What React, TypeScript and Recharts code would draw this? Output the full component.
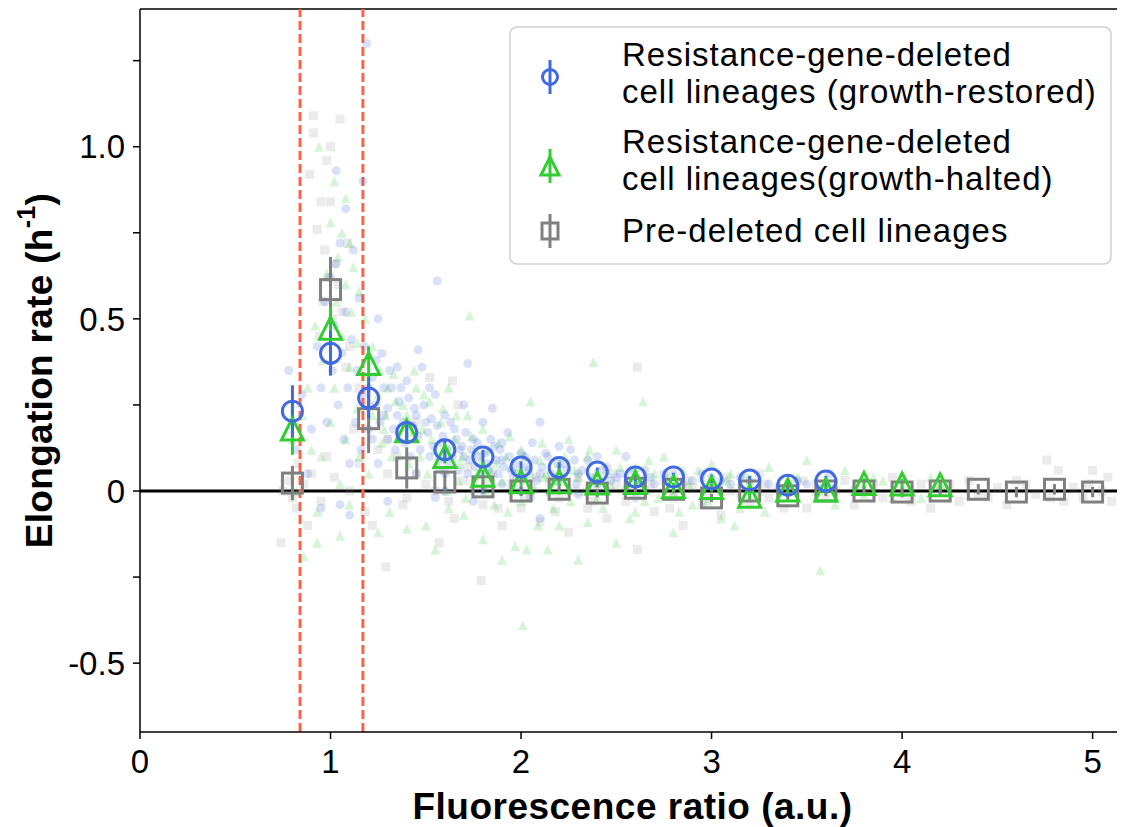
import React from 'react';
import { ScatterChart, Scatter, XAxis, YAxis, ReferenceLine, ErrorBar, Legend } from 'recharts';

const FONT = '"Liberation Sans", Arial, Helvetica, sans-serif';
const BLUE = '#4169e1';
const GREEN = '#32cd32';
const GRAY = '#808080';
const RED = '#ff6347';

// axis ticks
const fluorTicks = [0, 1, 2, 3, 4, 5];
const rateTicks = [-0.5, -0.25, 0, 0.25, 0.5, 0.75, 1.0, 1.25];
const rateMajorLabels: Record<string, string> = { '-0.5': '-0.5', '0': '0', '0.5': '0.5', '1': '1.0' };
const gateLines = [0.84, 1.17];

// binned means (± error)
const restoredX = [0.8, 1.0, 1.2, 1.4, 1.6, 1.8, 2.0, 2.2, 2.4, 2.6, 2.8, 3.0, 3.2, 3.4, 3.6];
const restoredY = [0.232, 0.40, 0.27, 0.17, 0.12, 0.099, 0.07, 0.068, 0.055, 0.041, 0.041, 0.035, 0.032, 0.017, 0.029];
const restoredErr = [0.075, 0.065, 0.06, 0.03, 0.025, 0.02, 0.016, 0.015, 0.013, 0.012, 0.012, 0.012, 0.012, 0.012, 0.015];

const haltedX = [0.8, 1.0, 1.2, 1.4, 1.6, 1.8, 2.0, 2.2, 2.4, 2.6, 2.8, 3.0, 3.2, 3.4, 3.6, 3.8, 4.0, 4.2];
const haltedY = [0.18, 0.473, 0.37, 0.175, 0.1, 0.046, 0.027, 0.027, 0.023, 0.025, 0.012, 0.01, -0.015, 0.003, 0.003, 0.022, 0.02, 0.018];
const haltedErr = [0.075, 0.06, 0.05, 0.03, 0.02, 0.016, 0.012, 0.012, 0.012, 0.012, 0.012, 0.012, 0.015, 0.012, 0.012, 0.015, 0.015, 0.015];

const preX = [0.8, 1.0, 1.2, 1.4, 1.6, 1.8, 2.0, 2.2, 2.4, 2.6, 2.8, 3.0, 3.2, 3.4, 3.6, 3.8, 4.0, 4.2, 4.4, 4.6, 4.8, 5.0];
const preY = [0.023, 0.585, 0.21, 0.067, 0.026, 0.012, 0.0, 0.005, -0.006, 0.008, 0.005, -0.02, 0.0, -0.014, 0.0, 0.0, -0.003, 0.0, 0.005, -0.003, 0.005, -0.003];
const preErr = [0.05, 0.095, 0.1, 0.06, 0.03, 0.02, 0.015, 0.015, 0.012, 0.012, 0.012, 0.012, 0.012, 0.012, 0.015, 0.015, 0.015, 0.015, 0.015, 0.015, 0.015, 0.015];

// individual lineages (background clouds)
const restoredCloud: number[][] = [
  [0.78, 0.35], [0.82, 0.12], [0.85, 0.28], [0.88, 0.05], [0.9, 0.18], [0.93, 0.42], [0.95, 0.3], [0.97, 0.55],
  [0.98, 0.2], [1.0, 0.62], [1.01, 0.35], [1.02, 0.48], [1.03, 0.93], [1.03, 0.66], [1.04, 0.25], [1.05, 0.72],
  [1.06, 0.4], [1.07, 0.15], [1.08, 0.52], [1.09, 0.3], [1.1, 0.08], [1.11, 0.44], [1.12, 0.7], [1.13, 0.2],
  [1.14, 0.35], [1.15, 0.56], [1.16, 0.12], [1.17, 0.9], [1.17, 0.28], [1.18, 0.42], [1.19, 1.3], [1.2, 0.18],
  [1.22, 0.33], [1.24, 0.25], [1.25, 0.08], [1.27, 0.4], [1.28, 0.22], [1.3, 0.15], [1.32, 0.3], [1.34, 0.12],
  [1.36, 0.26], [1.38, 0.2], [1.4, 0.32], [1.42, 0.1], [1.44, 0.24], [1.46, 0.41], [1.46, 0.16], [1.48, 0.36],
  [1.5, 0.2], [1.52, 0.1], [1.55, 0.28], [1.56, 0.61], [1.58, 0.14], [1.6, 0.22], [1.62, 0.08], [1.65, 0.18],
  [1.68, 0.12], [1.7, 0.25], [1.72, 0.37], [1.72, 0.05], [1.75, 0.15], [1.78, 0.1], [1.8, 0.2], [1.83, 0.06],
  [1.85, 0.24], [1.86, 0.13], [1.9, 0.09], [1.93, 0.17], [1.96, 0.04], [2.0, 0.11], [2.03, 0.07], [2.06, 0.14],
  [2.1, 0.2], [2.1, 0.05], [2.14, 0.1], [2.18, 0.03], [2.22, 0.08], [2.26, 0.12], [2.3, 0.05], [2.35, 0.09],
  [2.4, 0.02], [2.45, 0.07], [2.5, 0.04], [2.55, 0.1], [2.6, 0.03], [2.65, 0.06], [2.7, 0.02], [2.8, 0.05],
  [2.9, 0.03], [3.0, 0.04], [3.1, 0.02], [3.2, 0.03], [3.35, 0.01], [3.5, 0.02], [3.62, 0.05], [0.95, -0.05],
  [1.05, -0.04], [1.3, -0.03], [1.1, -0.07], [1.55, -0.02], [2.1, -0.08], [1.6, 0.05], [1.7, 0.1], [1.9, 0.14],
  [2.0, 0.0], [2.2, 0.13], [2.4, 0.1], [1.45, 0.05], [1.52, 0.3], [1.35, 0.36], [1.25, 0.5], [1.08, 0.82],
  [1.2, 0.3], [1.22, 0.15], [1.24, 0.38], [1.26, 0.2], [1.28, 0.3], [1.3, 0.24], [1.31, 0.35], [1.33, 0.18],
  [1.35, 0.22], [1.37, 0.3], [1.39, 0.14], [1.41, 0.27], [1.43, 0.19], [1.45, 0.22], [1.47, 0.12], [1.49, 0.25],
  [1.51, 0.17], [1.53, 0.21], [1.54, 0.13], [1.56, 0.19], [1.57, 0.09], [1.59, 0.16], [1.61, 0.12], [1.63, 0.2],
  [1.64, 0.1], [1.66, 0.15], [1.67, 0.06], [1.69, 0.13], [1.71, 0.17], [1.73, 0.09], [1.74, 0.12], [1.76, 0.07],
  [1.77, 0.14], [1.79, 0.05], [1.81, 0.11], [1.82, 0.08], [1.84, 0.15], [1.87, 0.09], [1.88, 0.05], [1.89, 0.12],
  [1.91, 0.07], [1.94, 0.1], [1.95, 0.06], [1.98, 0.08], [2.01, 0.04], [2.02, 0.1], [2.04, 0.06], [2.07, 0.09],
  [2.08, 0.03], [2.11, 0.07], [2.13, 0.11], [2.16, 0.05], [2.19, 0.08], [2.21, 0.04], [2.24, 0.06], [2.28, 0.09],
  [2.29, 0.02], [2.32, 0.06], [2.37, 0.04], [2.42, 0.06], [2.47, 0.03], [2.52, 0.05], [2.58, 0.06], [2.63, 0.02],
  [2.68, 0.04], [2.75, 0.05], [2.85, 0.02], [2.95, 0.05], [3.05, 0.03], [3.15, 0.04], [3.3, 0.02], [3.45, 0.03],
  [1.6, 0.0], [1.8, 0.0], [1.75, -0.03], [1.9, 0.02], [2.05, -0.02], [2.3, -0.01], [2.45, 0.0], [2.6, -0.02],
];

const haltedCloud: number[][] = [
  [0.94, 1.0], [1.02, 0.9], [1.08, 0.85], [1.0, 0.78], [1.06, 0.75], [1.1, 0.72], [1.04, 0.68], [1.12, 0.65],
  [0.98, 0.63], [1.08, 0.6], [1.15, 0.58], [1.03, 0.55], [1.11, 0.52], [1.18, 0.5], [0.92, 0.48], [1.06, 0.45],
  [1.14, 0.43], [1.22, 0.42], [0.96, 0.38], [1.1, 0.36], [1.18, 0.33], [1.26, 0.35], [0.88, 0.3], [1.02, 0.3],
  [1.3, 0.3], [0.85, 0.22], [1.14, 0.24], [1.22, 0.22], [1.34, 0.26], [0.8, 0.15], [0.9, 0.12], [1.08, 0.15],
  [1.28, 0.18], [1.4, 0.22], [1.45, 0.3], [1.48, 0.18], [1.52, 0.26], [1.55, 0.12], [1.58, 0.2], [1.62, 0.3],
  [1.65, 0.15], [1.68, 0.08], [1.73, 0.51], [1.72, 0.22], [1.76, 0.12], [1.8, 0.18], [1.84, 0.06], [1.88, 0.14],
  [1.92, 0.1], [1.96, 0.02], [2.0, 0.12], [2.05, 0.26], [2.05, 0.05], [2.1, 0.09], [2.15, 0.0], [2.2, 0.08],
  [2.25, 0.15], [2.3, 0.04], [2.35, 0.1], [2.38, 0.375], [2.4, -0.02], [2.45, 0.06], [2.5, 0.12], [2.55, 0.02],
  [2.6, 0.07], [2.64, 0.26], [2.65, -0.03], [2.7, 0.05], [2.75, 0.1], [2.8, 0.0], [2.85, 0.06], [2.9, -0.04],
  [2.95, 0.04], [3.0, 0.08], [3.05, 0.0], [3.1, 0.05], [3.15, -0.05], [3.2, 0.03], [3.3, 0.07], [3.35, -0.02],
  [3.45, 0.04], [3.5, 0.09], [3.57, -0.23], [3.6, 0.02], [3.7, 0.06], [3.8, -0.01], [3.9, 0.03], [4.0, 0.05],
  [4.1, -0.02], [4.2, 0.02], [2.01, -0.39], [0.93, -0.06], [0.93, -0.15], [1.05, -0.13], [1.31, -0.06],
  [1.4, -0.11], [1.5, -0.1], [1.7, -0.07], [1.8, -0.14], [1.9, -0.2], [1.97, -0.16], [2.03, -0.17], [2.14, -0.17],
  [2.2, -0.1], [2.35, -0.09], [2.3, -0.2], [2.6, -0.06], [2.5, -0.15], [2.8, -0.12], [3.05, -0.08], [1.62, -0.05],
  [1.55, -0.17], [1.1, -0.04], [1.25, -0.12], [0.86, -0.19], [1.6, 0.1], [1.75, 0.03], [1.95, 0.07], [2.12, 0.04],
  [1.25, 0.28], [1.27, 0.14], [1.29, 0.22], [1.32, 0.1], [1.33, 0.34], [1.36, 0.16], [1.38, 0.25], [1.41, 0.08],
  [1.43, 0.17], [1.44, 0.35], [1.47, 0.1], [1.49, 0.28], [1.51, 0.05], [1.53, 0.15], [1.57, 0.07], [1.59, 0.24],
  [1.61, 0.0], [1.63, 0.13], [1.66, 0.22], [1.67, 0.03], [1.69, 0.1], [1.71, -0.02], [1.74, 0.16], [1.77, 0.05],
  [1.79, 0.09], [1.82, 0.0], [1.83, 0.12], [1.86, -0.04], [1.87, 0.08], [1.9, 0.03], [1.93, -0.06], [1.94, 0.16],
  [1.98, 0.06], [2.0, -0.03], [2.02, 0.1], [2.07, 0.01], [2.09, -0.1], [2.11, 0.14], [2.13, 0.05], [2.17, -0.05],
  [2.19, 0.03], [2.23, 0.1], [2.26, -0.03], [2.28, 0.06], [2.33, 0.0], [2.36, 0.12], [2.39, 0.05], [2.43, -0.05],
  [2.47, 0.02], [2.52, 0.07], [2.57, -0.08], [2.62, 0.03], [2.67, 0.09], [2.72, -0.02], [2.77, 0.04], [2.83, -0.06],
  [2.88, 0.02], [2.93, 0.06], [2.98, -0.03], [3.08, 0.03], [3.12, -0.1], [3.18, 0.05], [3.25, 0.0], [3.28, -0.06],
  [3.4, 0.02], [3.55, 0.0], [3.65, -0.04], [3.75, 0.02], [3.85, 0.04], [3.95, -0.02], [4.05, 0.01], [4.15, 0.04],
  [1.15, 0.1], [1.2, 0.05], [1.0, 0.2], [0.95, 0.1], [1.05, 0.02], [0.82, 0.0],
];

const preCloud: number[][] = [
  [0.91, 1.09], [1.05, 1.08], [0.91, 1.04], [1.0, 1.0], [0.98, 0.96], [0.89, 0.92], [0.95, 0.84], [1.0, 0.84],
  [0.93, 0.76], [1.09, 0.72], [0.97, 0.7], [1.02, 0.66], [0.99, 0.62], [1.04, 0.6], [0.96, 0.55], [1.06, 0.52],
  [1.01, 0.5], [0.94, 0.45], [1.1, 0.42], [1.08, 0.36], [1.15, 0.3], [1.2, 0.25], [1.12, 0.18], [0.83, 0.08],
  [0.78, 0.03], [0.75, 0.0], [0.8, -0.02], [0.86, 0.02], [0.74, -0.15], [0.82, -0.05], [0.9, 0.05], [0.95, -0.03],
  [1.02, 0.04], [1.1, 0.0], [1.18, -0.06], [1.25, 0.12], [1.29, -0.22], [1.3, 0.05], [1.35, 0.1], [1.38, -0.04],
  [1.45, 0.2], [1.5, 0.02], [1.57, -0.15], [1.6, 0.06], [1.65, -0.08], [1.7, 0.03], [1.75, 0.0], [1.79, -0.26],
  [1.8, -0.04], [1.85, 0.05], [1.9, -0.1], [1.95, 0.02], [2.0, -0.05], [2.05, 0.0], [2.1, -0.09], [2.15, 0.03],
  [2.2, -0.02], [2.25, -0.12], [2.3, 0.04], [2.35, -0.05], [2.4, 0.01], [2.45, -0.08], [2.5, 0.02], [2.55, -0.03],
  [2.61, -0.17], [2.61, 0.36], [2.65, 0.0], [2.7, -0.06], [2.75, 0.03], [2.8, -0.02], [2.85, -0.1], [2.9, 0.01],
  [2.95, -0.04], [3.0, 0.02], [3.05, -0.07], [3.1, 0.0], [3.2, -0.03], [3.25, 0.05], [3.3, -0.02], [3.4, 0.01],
  [3.5, -0.05], [3.55, 0.02], [3.6, -0.01], [3.7, 0.03], [3.75, -0.04], [3.8, 0.0], [3.9, -0.02], [3.95, 0.04],
  [4.0, -0.01], [4.1, 0.02], [4.15, -0.05], [4.2, 0.01], [4.3, -0.03], [4.35, 0.03], [4.45, -0.02], [4.5, 0.01],
  [4.55, -0.04], [4.65, 0.02], [4.7, -0.01], [4.76, 0.09], [4.82, 0.06], [4.85, -0.03], [4.9, 0.01], [4.95, -0.02],
  [5.0, 0.06], [5.05, 0.0], [5.1, -0.03], [1.52, 0.33], [1.64, 0.32], [1.67, 0.25], [1.3, 0.15], [1.4, -0.02],
  [1.45, 0.05], [1.55, 0.0], [1.62, -0.03], [1.72, 0.07], [1.82, 0.02], [1.88, -0.05], [1.98, 0.05], [2.02, -0.02],
  [2.08, 0.04], [2.18, -0.06], [2.28, 0.0], [2.38, -0.03], [2.48, 0.05], [2.58, 0.0], [2.68, 0.02], [2.78, -0.05],
  [2.88, 0.03], [2.98, -0.02], [3.08, 0.04], [3.15, -0.01], [3.28, 0.02], [3.38, -0.05], [3.48, 0.03], [3.65, 0.0],
  [3.85, 0.02], [4.05, -0.03], [4.25, 0.02], [4.4, -0.01], [4.6, 0.03], [4.78, -0.02], [4.98, 0.02], [5.08, 0.04],
  [0.88, -0.1], [0.98, 0.1], [1.15, 0.08], [1.22, -0.1],
];

const legendLabels: string[][] = [
  ['Resistance-gene-deleted', 'cell lineages (growth-restored)'],
  ['Resistance-gene-deleted', 'cell lineages(growth-halted)'],
  ['Pre-deleted cell lineages'],
];

const toRows = (xs: number[], ys: number[], es: number[]) => xs.map((x, i) => ({ x, y: ys[i], err: es[i] }));
const cloudRows = (pts: number[][]) => pts.map(([x, y]) => ({ x, y }));

const restoredRows = toRows(restoredX, restoredY, restoredErr);
const haltedRows = toRows(haltedX, haltedY, haltedErr);
const preRows = toRows(preX, preY, preErr);

const CloudCircle = (p: any) => <circle cx={p.cx} cy={p.cy} r={4.5} fill={BLUE} fillOpacity={0.2} />;
const CloudTri = (p: any) => (
  <polygon points={`${p.cx},${p.cy - 5} ${p.cx - 5},${p.cy + 5} ${p.cx + 5},${p.cy + 5}`} fill={GREEN} fillOpacity={0.2} />
);
const CloudSq = (p: any) => <rect x={p.cx - 4.5} y={p.cy - 4.5} width={9} height={9} fill={GRAY} fillOpacity={0.16} />;

const MeanCircle = (p: any) => <circle cx={p.cx} cy={p.cy} r={10} fill="none" stroke={BLUE} strokeWidth={3} />;
const MeanTri = (p: any) => (
  <polygon points={`${p.cx},${p.cy - 11} ${p.cx - 11},${p.cy + 11} ${p.cx + 11},${p.cy + 11}`} fill="none" stroke={GREEN} strokeWidth={3} strokeLinejoin="miter" />
);
const MeanSq = (p: any) => <rect x={p.cx - 10} y={p.cy - 10} width={20} height={20} fill="none" stroke={GRAY} strokeWidth={3} />;

const LegendBox = () => {
  const icons = [
    { cy: 51, color: BLUE, kind: 'c' },
    { cy: 140, color: GREEN, kind: 't' },
    { cy: 205, color: GRAY, kind: 's' },
  ];
  const baselines = [[40, 77], [127, 164], [216]];
  return (
    <svg width={604} height={240} style={{ display: 'block' }}>
      <rect x={1} y={1} width={601} height={237} rx={7} ry={7} fill="#ffffff" fillOpacity={0.85} stroke="#cfcfcf" strokeWidth={1.5} />
      {icons.map((ic, i) => (
        <g key={i}>
          <line x1={41} x2={41} y1={ic.cy - 17} y2={ic.cy + 17} stroke={ic.color} strokeWidth={3} />
          {ic.kind === 'c' && <circle cx={41} cy={ic.cy} r={7.5} fill="none" stroke={ic.color} strokeWidth={3} />}
          {ic.kind === 't' && (
            <polygon points={`41,${ic.cy - 9} 32,${ic.cy + 9} 50,${ic.cy + 9}`} fill="none" stroke={ic.color} strokeWidth={3} />
          )}
          {ic.kind === 's' && <rect x={33} y={ic.cy - 8} width={16} height={16} fill="none" stroke={ic.color} strokeWidth={3} />}
        </g>
      ))}
      {legendLabels.map((lines, i) =>
        lines.map((t, j) => (
          <text key={`${i}-${j}`} x={113} y={baselines[i][j]} fontFamily={FONT} fontSize={33} letterSpacing={1} fill="#000">
            {t}
          </text>
        ))
      )}
    </svg>
  );
};

const XTitle = (props: any) => {
  const vb = props.viewBox;
  return (
    <text x={vb.x + vb.width / 2} y={vb.y + 87} textAnchor="middle" fontFamily={FONT} fontWeight="bold" fontSize={37} letterSpacing={0.5} fill="#000">
      Fluorescence ratio (a.u.)
    </text>
  );
};

const YTitle = (props: any) => {
  const vb = props.viewBox;
  const cx = 31;
  const cy = vb.y + vb.height / 2;
  return (
    <text x={cx} y={cy} transform={`rotate(-90, ${cx}, ${cy})`} textAnchor="middle" dominantBaseline="central" fontFamily={FONT} fontWeight="bold" fontSize={37} letterSpacing={0.3} fill="#000">
      <tspan>Elongation rate (h</tspan>
      <tspan dy={-13} fontSize={25}>-1</tspan>
      <tspan dy={13}>)</tspan>
    </text>
  );
};

export default function App() {
  return (
    <div style={{ width: 1117, height: 819, position: 'relative' }}>
      <ScatterChart width={1117} height={819} margin={{ top: 1, right: 0, bottom: 0, left: 0 }}>
        <XAxis
          dataKey="x"
          type="number"
          domain={[0, 5.17]}
          allowDataOverflow
          ticks={fluorTicks}
          height={95}
          tickSize={7}
          tickMargin={11}
          tick={{ fill: '#000', fontSize: 33, fontFamily: FONT }}
          tickLine={{ stroke: '#000', strokeWidth: 1.5 }}
          axisLine={{ stroke: '#000', strokeWidth: 1.5 }}
          label={{ content: XTitle } as any}
        />
        <YAxis
          dataKey="y"
          type="number"
          domain={[-0.7, 1.4]}
          allowDataOverflow
          ticks={rateTicks}
          width={132}
          tickSize={7}
          tickMargin={8}
          tickFormatter={(v: number) => rateMajorLabels[String(v)] ?? ''}
          tick={{ fill: '#000', fontSize: 33, fontFamily: FONT }}
          tickLine={{ stroke: '#000', strokeWidth: 1.5 }}
          axisLine={{ stroke: '#000', strokeWidth: 1.5 }}
          label={{ content: YTitle } as any}
        />
        <ReferenceLine y={1.4} stroke="#000" strokeWidth={1.5} />
        <Scatter name="preCloud" data={cloudRows(preCloud)} shape={CloudSq} isAnimationActive={false} legendType="none" />
        <Scatter name="haltedCloud" data={cloudRows(haltedCloud)} shape={CloudTri} isAnimationActive={false} legendType="none" />
        <Scatter name="restoredCloud" data={cloudRows(restoredCloud)} shape={CloudCircle} isAnimationActive={false} legendType="none" />
        <ReferenceLine y={0} stroke="#000" strokeWidth={2.8} />
        {gateLines.map((g) => (
          <ReferenceLine key={g} x={g} stroke={RED} strokeWidth={3} strokeDasharray="9 4" />
        ))}
        <Scatter name="Pre-deleted cell lineages" data={preRows} shape={MeanSq} isAnimationActive={false}>
          <ErrorBar dataKey="err" direction="y" width={0} stroke={GRAY} strokeWidth={3} />
        </Scatter>
        <Scatter name="halted" data={haltedRows} shape={MeanTri} isAnimationActive={false}>
          <ErrorBar dataKey="err" direction="y" width={0} stroke={GREEN} strokeWidth={3} />
        </Scatter>
        <Scatter name="restored" data={restoredRows} shape={MeanCircle} isAnimationActive={false}>
          <ErrorBar dataKey="err" direction="y" width={0} stroke={BLUE} strokeWidth={3} />
        </Scatter>
        <Legend
          layout="horizontal"
          verticalAlign="middle"
          align="center"
          content={LegendBox}
          wrapperStyle={{ left: 501, top: 18, width: 604, height: 240 }}
        />
      </ScatterChart>
    </div>
  );
}
